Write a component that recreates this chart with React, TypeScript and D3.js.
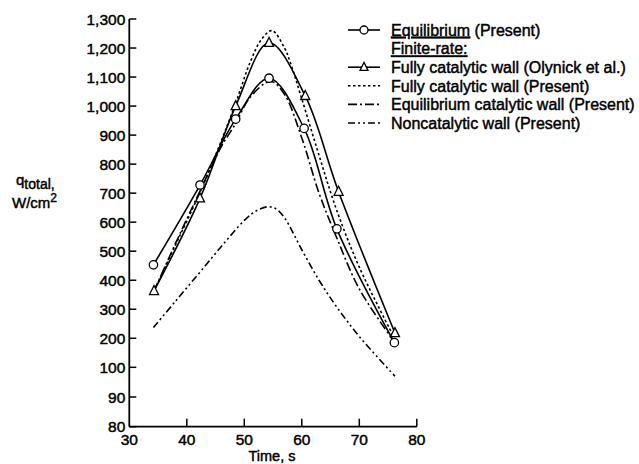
import React from "react";
import * as d3 from "d3";

const xTicks = [30, 40, 50, 60, 70, 80];
const yTicks = [80, 90, 100, 200, 300, 400, 500, 600, 700, 800, 900, 1000, 1100, 1200, 1300];

// Equilibrium (Present) - circles
const eqT = [34.2, 42.3, 48.5, 54.3, 60.4, 66.1, 76.1];
const eqQ = [453, 728, 955, 1096, 923, 577, 185];
// Fully catalytic wall (Olynick et al.) - triangles
const olT = [34.3, 42.3, 48.5, 54.3, 60.6, 66.4, 76.2];
const olQ = [363, 682, 1000, 1218, 1035, 705, 218];
// Fully catalytic wall (Present) - dotted
const fcT = [34.3, 38, 42, 46, 48.5, 51, 53, 54.8, 57, 58, 60, 63, 66, 70, 76];
const fcQ = [363, 520, 690, 880, 1010, 1150, 1230, 1260, 1200, 1150, 1025, 830, 645, 445, 205];
// Equilibrium catalytic wall (Present) - dash-dot
const ecT = [34.3, 38, 42, 46, 48.5, 51, 54.6, 57, 60, 63, 66, 70, 76];
const ecQ = [363, 525, 695, 860, 940, 1030, 1085, 1040, 890, 700, 550, 370, 190];
// Noncatalytic wall (Present) - dash-dot-dot
const ncT = [34.2, 38, 42, 46, 50, 52, 54, 55.5, 57, 60, 63, 66, 70, 76.2];
const ncQ = [237, 327, 421, 516, 606, 638, 653, 646, 615, 505, 400, 310, 206, 97];

const legendItems = [
  "Equilibrium (Present)",
  "Finite-rate:",
  "Fully catalytic wall (Olynick et al.)",
  "Fully catalytic wall (Present)",
  "Equilibrium catalytic wall (Present)",
  "Noncatalytic wall (Present)",
];

const FONT = "'Liberation Sans', Arial, Helvetica, sans-serif";

export default function App() {
  const W = 639, H = 464;
  const x = d3.scaleLinear().domain([30, 80]).range([129.3, 416.8]);
  const y = d3.scaleLinear().domain([80, 100, 1300]).range([426.7, 367.3, 19]);
  const x0 = x(30), y0 = y(80);

  const mk = (ts: number[], qs: number[]) =>
    d3.line<number>().x((_, i) => x(ts[i])).y((_, i) => y(qs[i])).curve(d3.curveCatmullRom.alpha(0.5))(ts) || "";

  const tri = (cx: number, cy: number, s = 9) =>
    `M${cx},${cy - s * 0.6} L${cx + s / 2},${cy + s * 0.4} L${cx - s / 2},${cy + s * 0.4} Z`;

  const textStyle = { fontFamily: FONT, fill: "#000", stroke: "#000", strokeWidth: 0.45 } as const;

  const lg0 = 30, lgStep = 18.6, lsx0 = 348, lsx1 = 380, ltx = 391;
  const dashes = ["", "", "", "2.5,2.5", "9,3,2,3", "7,3,2,3,2,3"];

  return (
    <svg width={W} height={H} style={{ position: "absolute", left: 0, top: 0, background: "#fff" }}>
      <rect width={W} height={H} fill="#fff" />
      {/* axes */}
      <line x1={x0} y1={y(1300)} x2={x0} y2={y0} stroke="#000" strokeWidth={1.8} />
      <line x1={x0} y1={y0} x2={x(80)} y2={y0} stroke="#000" strokeWidth={1.8} />
      {yTicks.map((t) => (
        <g key={"y" + t}>
          <line x1={x0} x2={x0 + 7} y1={y(t)} y2={y(t)} stroke="#000" strokeWidth={1.5} />
          <text x={x0 - 4} y={y(t)} dy="0.36em" textAnchor="end" fontSize={15.5} style={textStyle}>
            {d3.format(",")(t)}
          </text>
        </g>
      ))}
      {xTicks.map((t) => (
        <g key={"x" + t}>
          {t !== 30 && <line x1={x(t)} x2={x(t)} y1={y0} y2={y0 - 8} stroke="#000" strokeWidth={1.5} />}
          <text x={x(t)} y={445} textAnchor="middle" fontSize={15.5} style={textStyle}>
            {t}
          </text>
        </g>
      ))}
      <text x={272} y={461} textAnchor="middle" fontSize={14.5} style={textStyle}>Time, s</text>
      {/* y label */}
      <text x={16} y={185} fontSize={15} style={textStyle}>
        q<tspan dy={4} fontSize={14}>total,</tspan>
      </text>
      <text x={12} y={208} fontSize={15} style={textStyle}>
        W/cm<tspan dy={-6} fontSize={12}>2</tspan>
      </text>

      {/* series */}
      <path d={mk(ncT, ncQ)} fill="none" stroke="#000" strokeWidth={1.6} strokeDasharray={dashes[5]} />
      <path d={mk(ecT, ecQ)} fill="none" stroke="#000" strokeWidth={1.6} strokeDasharray={dashes[4]} />
      <path d={mk(fcT, fcQ)} fill="none" stroke="#000" strokeWidth={1.6} strokeDasharray={dashes[3]} />
      <path d={mk(olT, olQ)} fill="none" stroke="#000" strokeWidth={1.6} />
      <path d={mk(eqT, eqQ)} fill="none" stroke="#000" strokeWidth={1.6} />
      {olT.map((t, i) => (
        <path key={"t" + i} d={tri(x(t), y(olQ[i]))} fill="#fff" stroke="#000" strokeWidth={1.3} />
      ))}
      {eqT.map((t, i) => (
        <circle key={"c" + i} cx={x(t)} cy={y(eqQ[i])} r={4.2} fill="#fff" stroke="#000" strokeWidth={1.3} />
      ))}

      {/* legend */}
      {legendItems.map((lab, i) => {
        const cy = lg0 + i * lgStep;
        const cx = (lsx0 + lsx1) / 2;
        return (
          <g key={"l" + i}>
            {i !== 1 && (
              <line x1={lsx0} x2={lsx1} y1={cy} y2={cy} stroke="#000" strokeWidth={1.6} strokeDasharray={dashes[i]} />
            )}
            {i === 0 && <circle cx={cx} cy={cy} r={4} fill="#fff" stroke="#000" strokeWidth={1.3} />}
            {i === 2 && <path d={tri(cx, cy, 8)} fill="#fff" stroke="#000" strokeWidth={1.3} />}
            <text x={ltx} y={cy} dy="0.36em" fontSize={16} style={textStyle}>
              {i === 0 ? (
                <>
                  <tspan textDecoration="underline">Equilibrium</tspan> (Present)
                </>
              ) : i === 1 ? (
                <tspan textDecoration="underline">{lab}</tspan>
              ) : (
                lab
              )}
            </text>
          </g>
        );
      })}
    </svg>
  );
}
